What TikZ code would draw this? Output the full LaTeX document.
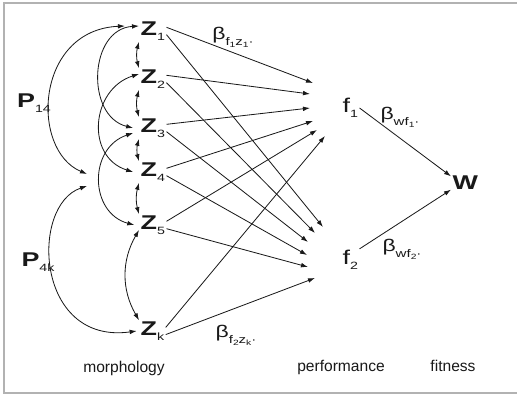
\documentclass[tikz,border=0pt]{standalone}
\usepackage{fontspec}
\setmainfont{Liberation Sans}
\newfontfamily\widefont[FakeStretch=1.35]{Liberation Sans}
\usetikzlibrary{arrows.meta}

\newcommand{\zsub}[1]{\raisebox{-0.45ex}{\fontsize{9}{9}\selectfont\mdseries #1}}
\newcommand{\csub}[1]{\raisebox{-0.7ex}{\fontsize{9.5}{10}\selectfont #1}}
\newcommand{\ssub}[1]{\raisebox{-0.3ex}{\fontsize{6.5}{7}\selectfont #1}}

\tikzset{
  zvar/.style={font=\fontsize{17}{20}\selectfont\widefont\bfseries, inner sep=1pt, anchor=west},
  fvar/.style={font=\fontsize{17}{20}\selectfont\widefont, inner sep=1pt, anchor=west},
  coef/.style={font=\fontsize{14.5}{17}\selectfont\widefont, inner sep=0pt},
  word/.style={font=\fontsize{13.3}{16}\selectfont, inner sep=0pt}
}

\begin{document}
\begin{tikzpicture}[x=0.03cm, y=0.03cm, line width=0.7pt, black!90,
    >={Latex[length=6pt,width=4pt]}]
  \useasboundingbox (0,0) rectangle (517,-397);
  \draw[gray!60, line width=1.2pt] (517,-3) -- (4,-3) -- (4,-393) -- (517,-393);

  % morphology
  \node[zvar] (Z1) at (139,-31) {Z\zsub{1}};
  \node[zvar] (Z2) at (139,-79) {Z\zsub{2}};
  \node[zvar] (Z3) at (139,-128) {Z\zsub{3}};
  \node[zvar] (Z4) at (139,-172) {Z\zsub{4}};
  \node[zvar] (Z5) at (139,-225) {Z\zsub{5}};
  \node[zvar] (Zk) at (139,-331) {Z\zsub{k}};

  % performance and fitness
  \node[fvar] (f1) at (341,-108) {f\zsub{1}};
  \node[fvar] (f2) at (341,-260) {f\zsub{2}};
  \node[zvar] (W) at (451,-183) {W};

  \coordinate (m1) at (87,-174);
  \coordinate (m2) at (87,-186);

  \node[zvar, anchor=center] (P14) at (34,-103) {P\zsub{14}};
  \node[zvar, anchor=center] (P4k) at (38,-262) {P\zsub{4k}};

  % correlations
  \draw[<->] (m1) .. controls (30,-150) and (35,-30) .. ([xshift=-12pt]Z1.160);
  \draw[<->] (m2) .. controls (30,-205) and (35,-345) .. ([xshift=-2pt]Zk.west);
  \draw[<->] (Z1.160) .. controls +(-50,-3) and +(-48,12) .. ([xshift=-5pt]Z3.west);
  \draw[<->] (Z2.160) .. controls +(-48,-15) and +(-48,15) .. ([xshift=-5pt]Z4.west);
  \draw[<->] ([xshift=-5pt]Z3.200) .. controls +(-45,-15) and +(-45,12) .. ([xshift=-4pt]Z5.west);
  \draw[<->] (Z1.south west) to[bend right=15] (Z2.north west);
  \draw[<->] (Z2.south west) to[bend right=15] (Z3.north west);
  \draw[<->] (Z3.south west) to[bend right=15] (Z4.north west);
  \draw[<->] (Z4.south west) to[bend right=15] (Z5.north west);
  \draw[<->] (Z5.200) to[bend right=30] (Zk.north west);

  % paths to f1
  \coordinate (f1z1) at (313,-83);
  \coordinate (f1z2) at (310,-94);
  \coordinate (f1z3) at (310,-108);
  \coordinate (f1z4) at (313,-121);
  \coordinate (f1z5) at (317,-130);
  \coordinate (f1zk) at (325,-136);
  \draw[->] (Z1.15) -- (f1z1);
  \draw[->] (Z2.15) -- (f1z2);
  \draw[->] (Z3.15) -- (f1z3);
  \draw[->] (Z4.15) -- (f1z4);
  \draw[->] (Z5.15) -- (f1z5);
  \draw[->] (Zk.15) -- (f1zk);

  % paths to f2
  \coordinate (f2z1) at (323,-227);
  \coordinate (f2z2) at (315,-233);
  \coordinate (f2z3) at (308,-242);
  \coordinate (f2z4) at (307,-255);
  \coordinate (f2z5) at (308,-267);
  \coordinate (f2zk) at (315,-278);
  \draw[->] (Z1.-15) -- (f2z1);
  \draw[->] (Z2.-15) -- (f2z2);
  \draw[->] (Z3.-15) -- (f2z3);
  \draw[->] (Z4.-15) -- (f2z4);
  \draw[->] (Z5.-15) -- (f2z5);
  \draw[->] (Zk.-15) -- (f2zk);

  % paths to fitness
  \draw[->] (f1.east) -- (W.155);
  \draw[->] (f2.north east) -- (W.205);

  \node[coef] (bf1) at (233,-37) {β\csub{f\ssub{1}z\ssub{1}·}};
  \node[coef] (bf2) at (236,-335) {β\csub{f\ssub{2}z\ssub{k}·}};
  \node[coef] (bw1) at (400,-117) {β\csub{wf\ssub{1}·}};
  \node[coef] (bw2) at (402,-249) {β\csub{wf\ssub{2}·}};

  \node[word] (mo) at (124,-368) {morphology};
  \node[word] (pe) at (341,-367) {performance};
  \node[word] (fi) at (453,-366) {fitness};
\end{tikzpicture}
\end{document}
